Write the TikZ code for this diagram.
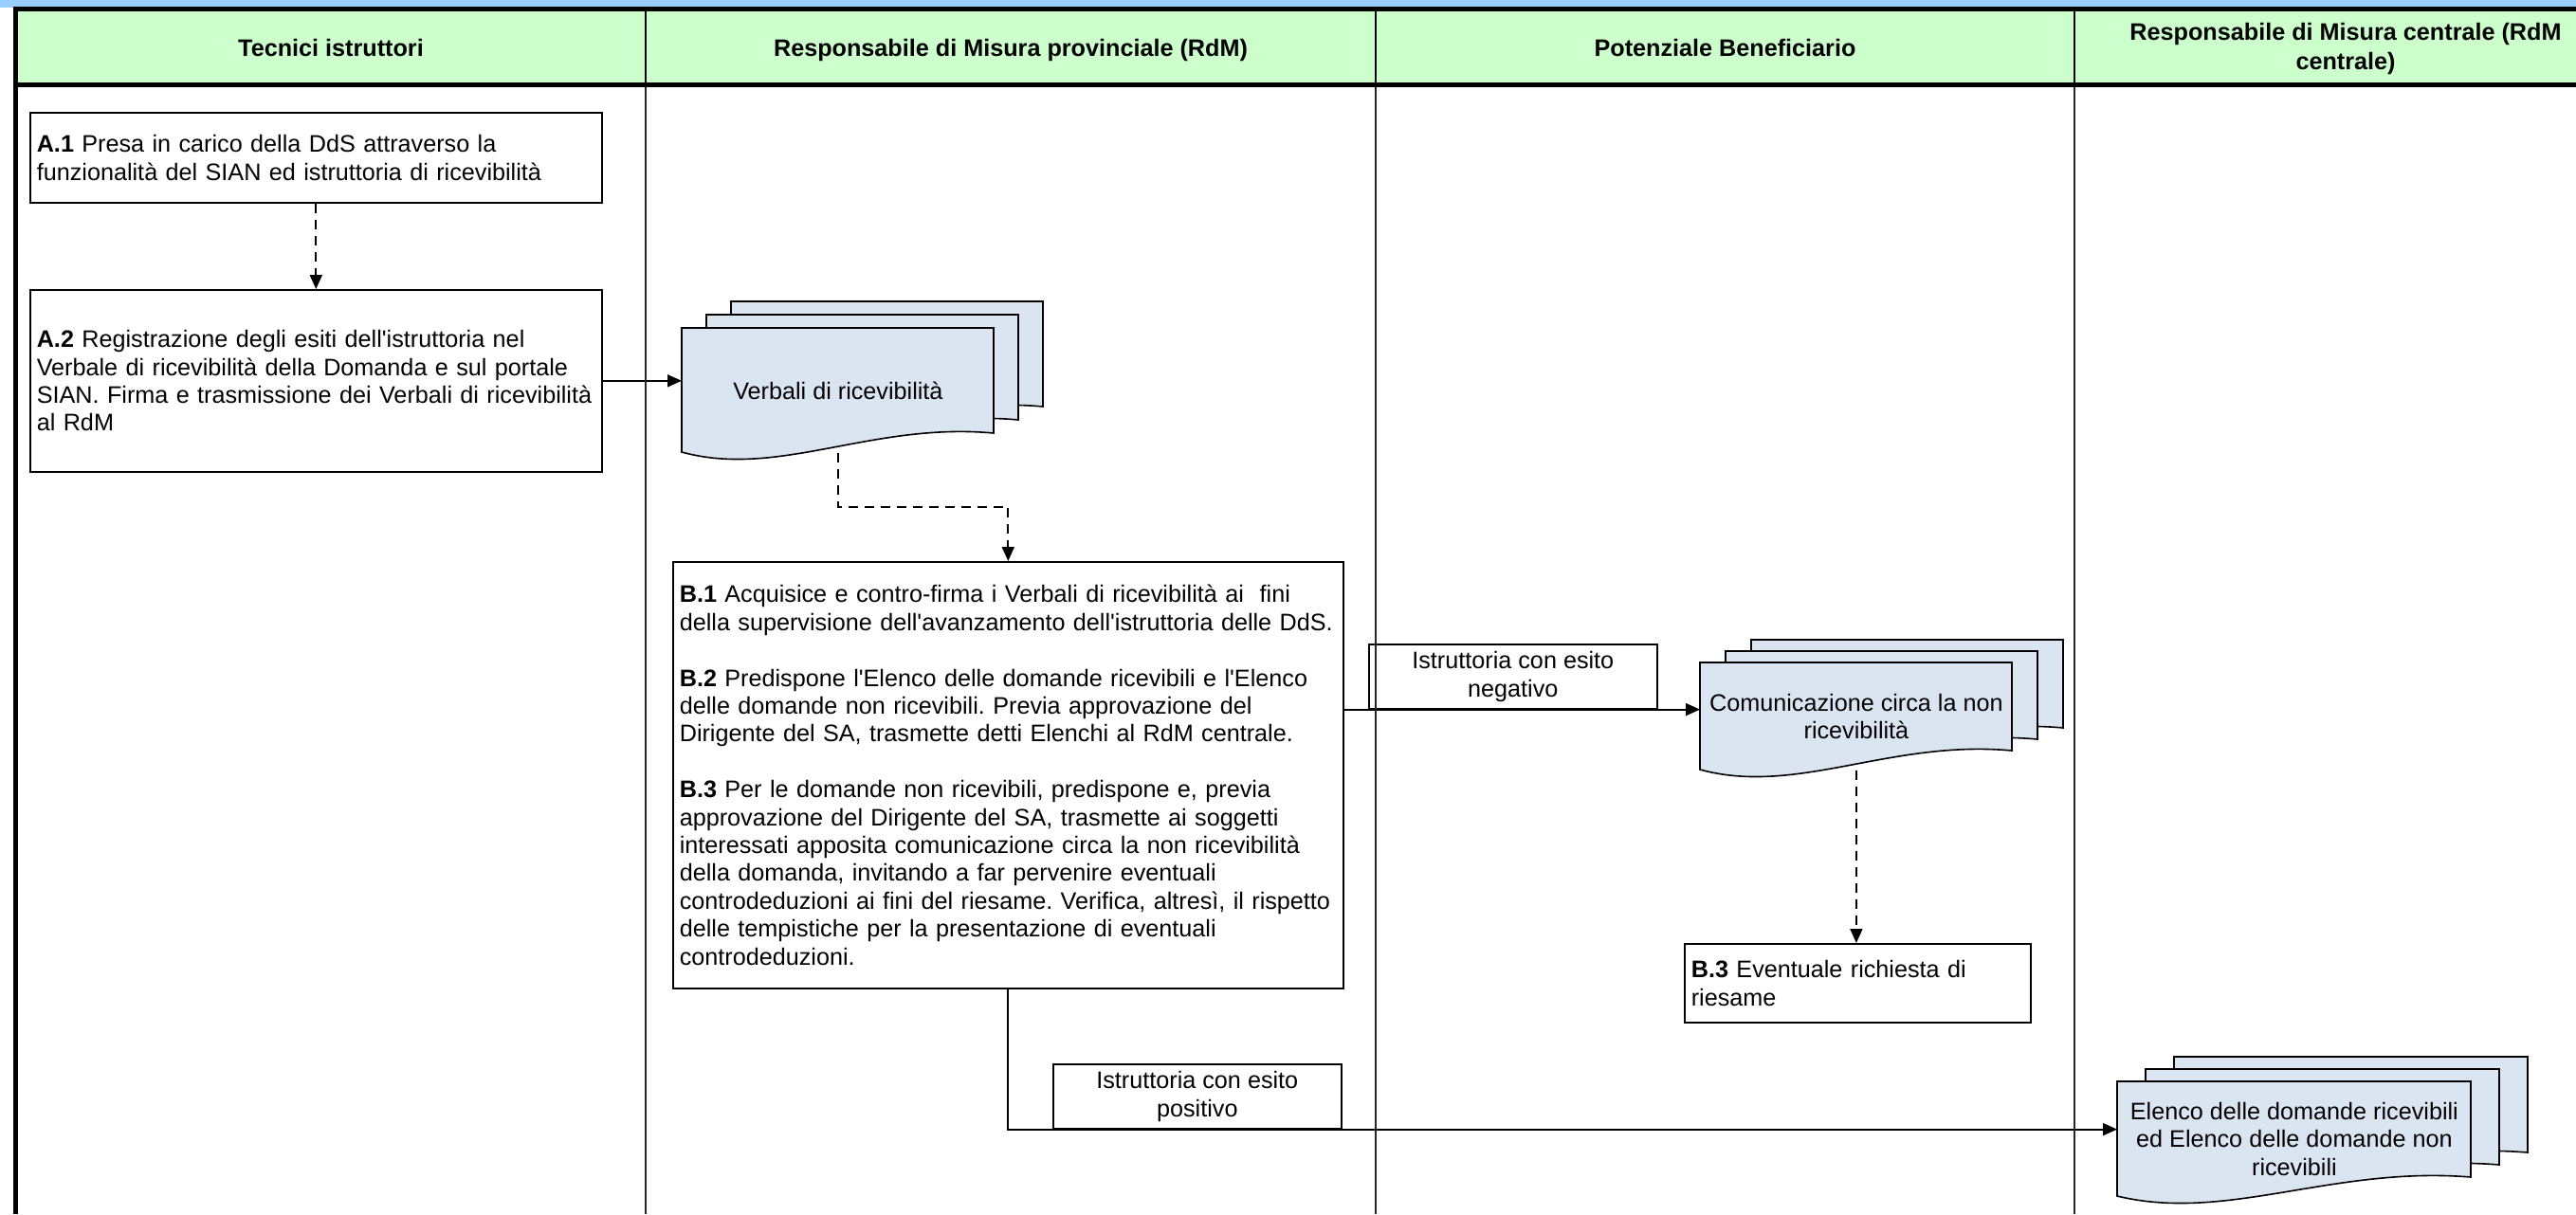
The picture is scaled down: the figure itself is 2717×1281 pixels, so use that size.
\documentclass[tikz,border=0pt]{standalone}
\usepackage{fontspec}
\setmainfont{Liberation Sans}
\usetikzlibrary{arrows.meta}
\definecolor{bandblue}{HTML}{99CCFF}
\definecolor{headgreen}{HTML}{CCFFCC}
\definecolor{docfill}{HTML}{DBE5F1}
\newcommand{\aps}{\textquotesingle}
% stack of three document sheets with a wavy bottom edge
% #1 name, #2 x, #3 y (top left of the front sheet), #4 width, #5 height,
% #6 horizontal offset, #7 vertical offset, #8 text
\newcommand{\docstack}[8]{%
  \foreach \k in {2,1,0}{%
    \draw[docsheet] ({#2+\k*#6},{#3-\k*#7}) -- ({#2+\k*#6+#4},{#3-\k*#7})
      -- ({#2+\k*#6+#4},{#3-\k*#7+#5-20})
      .. controls ({#2+\k*#6+0.61*#4},{#3-\k*#7+#5-32}) and ({#2+\k*#6+0.31*#4},{#3-\k*#7+#5+28})
      .. ({#2+\k*#6},{#3-\k*#7+#5}) -- cycle;
  }
  \node[docbody, minimum width=#4*0.5pt, minimum height=#5*0.5pt] (#1) at (#2,#3) {#8};
}
\frenchspacing
\begin{document}
\begin{tikzpicture}[x=0.5pt,y=-0.5pt,
  font=\fontsize{12.6pt}{14.7pt}\selectfont\frenchspacing,
  lanehead/.style={font=\fontsize{12.6pt}{15.5pt}\selectfont\bfseries, align=center},
  taskbox/.style={draw=black, line width=0.8pt, fill=white, rectangle, anchor=north west,
    inner xsep=3.5pt, inner ysep=0pt, align=left},
  labelbox/.style={draw=black, line width=0.8pt, anchor=north west, inner sep=0pt,
    align=center, minimum width=152pt, minimum height=34pt},
  docsheet/.style={draw=black, line width=0.8pt, fill=docfill},
  docbody/.style={anchor=north west, inner sep=0pt, align=center},
  flow/.style={draw=black, line width=0.9pt, -{Triangle[length=7.5pt,width=6.5pt]}},
  dflow/.style={flow, dash pattern=on 5pt off 3.5pt},
  lanerule/.style={line width=0.6pt, black!85},
  headrule/.style={line width=1.25pt, black},
  thickrule/.style={line width=2.5pt, black},
]
\useasboundingbox (0,0) rectangle (2717,1281);

% header band and swimlane titles
\fill[bandblue] (0,0) rectangle (2717,8);
\fill[headgreen] (16,12) rectangle (2717,87);
\draw[thickrule] (14,9.5) -- (2717,9.5);
\draw[thickrule] (14,89.5) -- (2717,89.5);
\draw[thickrule] (16.5,7) -- (16.5,1281);
\foreach \xx in {681,1451,2188}{
  \draw[headrule] (\xx,12) -- (\xx,87);
}

\node[lanehead, anchor=base] (h1) at (349,59) {Tecnici istruttori};
\node[lanehead, anchor=base] (h2) at (1066,59) {Responsabile di Misura provinciale (RdM)};
\node[lanehead, anchor=base] (h3) at (1819.5,59) {Potenziale Beneficiario};
\node[lanehead] (h4) at (2474,51) {Responsabile di Misura centrale (RdM\\centrale)};

% activities
\node[taskbox, minimum width=301.5pt, minimum height=47.5pt, text width=294.5pt] (a1) at (31,118)
  {\textbf{A.1} Presa in carico della DdS attraverso la\\funzionalità del SIAN ed istruttoria di ricevibilità};
\node[taskbox, minimum width=301.5pt, minimum height=96pt, text width=294.5pt] (a2) at (31,305)
  {\textbf{A.2} Registrazione degli esiti dell\aps istruttoria nel\\Verbale di ricevibilità della Domanda e sul portale\\SIAN. Firma e trasmissione dei Verbali di ricevibilità\\al RdM};
\node[taskbox, minimum width=353.5pt, minimum height=225pt, text width=346.5pt] (b) at (709,592)
  {\textbf{B.1} Acquisice e contro-firma i Verbali di ricevibilità ai \ fini\\
   della supervisione dell\aps avanzamento dell\aps istruttoria delle DdS.\\[14.7pt]
   \textbf{B.2} Predispone l\aps Elenco delle domande ricevibili e l\aps Elenco\\
   delle domande non ricevibili. Previa approvazione del\\
   Dirigente del SA, trasmette detti Elenchi al RdM centrale.\\[14.7pt]
   \textbf{B.3} Per le domande non ricevibili, predispone e, previa\\
   approvazione del Dirigente del SA, trasmette ai soggetti\\
   interessati apposita comunicazione circa la non ricevibilità\\
   della domanda, invitando a far pervenire eventuali\\
   controdeduzioni ai fini del riesame. Verifica, altresì, il rispetto\\
   delle tempistiche per la presentazione di eventuali\\
   controdeduzioni.};
\node[taskbox, minimum width=182.5pt, minimum height=41.5pt, text width=175.5pt] (b3) at (1776,995)
  {\textbf{B.3} Eventuale richiesta di\\riesame};

% documents
\docstack{verb}{719}{346}{329}{131}{26}{14}{Verbali di ricevibilità}
\docstack{com}{1793}{699}{329}{113}{27}{12}{Comunicazione circa la non\\ricevibilità}
\docstack{elenco}{2233}{1141}{373}{121}{30}{13}{Elenco delle domande ricevibili\\ed Elenco delle domande non\\ricevibili}

% outcome labels
\node[labelbox] (neg) at (1443,679) {Istruttoria con esito\\negativo};
\node[labelbox] (pos) at (1110,1122) {Istruttoria con esito\\positivo};

% connectors
\draw[dflow] (a1.south) -- (a2.north);
\draw[flow] (a2.east) -- (a2.east -| verb.west);
\draw[dflow] (verb.south) -- ++(0,57) -| (b.north);
\draw[flow] (b.east |- neg.south) -- (com.west |- neg.south);
\draw[dflow] (com.south) -- (com.south |- b3.north);
\draw[flow] (b.south) |- (elenco.west |- pos.south);

% lane separators
\foreach \xx in {681,1451,2188}{
  \draw[lanerule] (\xx,92) -- (\xx,1281);
}
\end{tikzpicture}
\end{document}
